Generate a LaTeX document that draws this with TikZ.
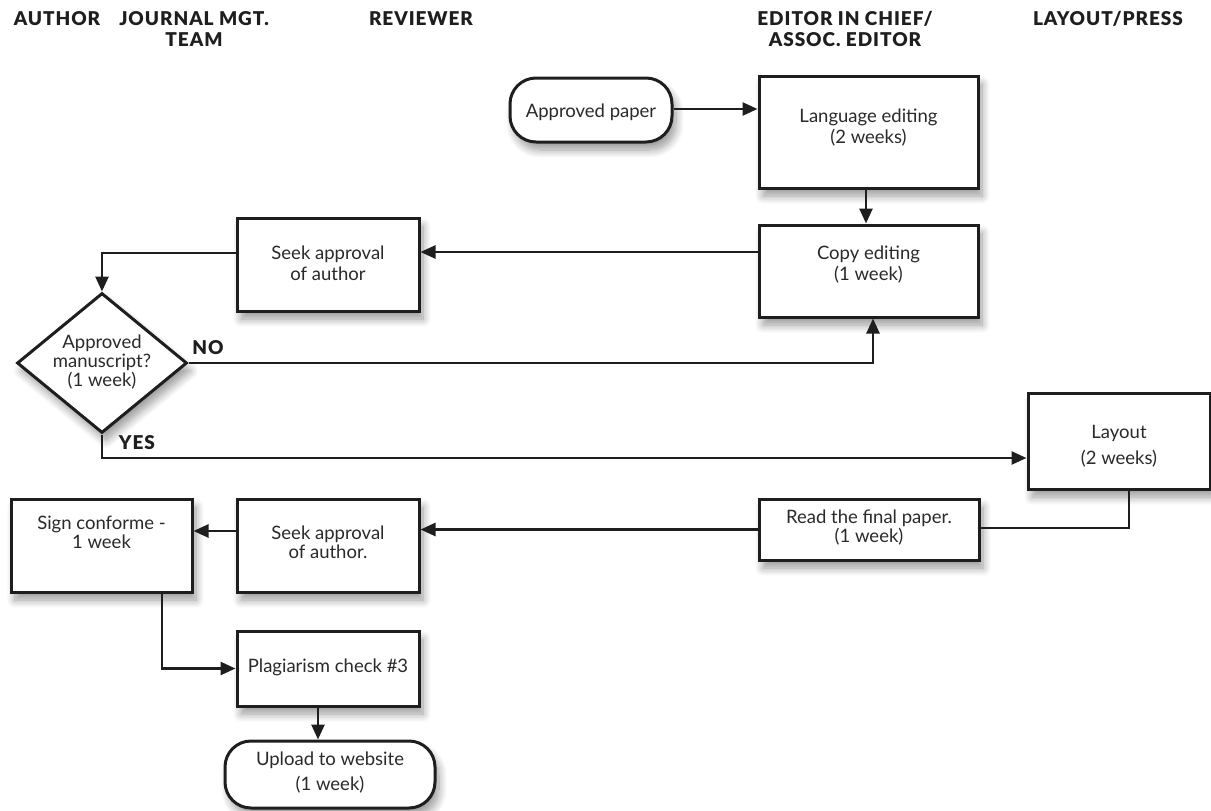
\documentclass[tikz,border=0pt]{standalone}
\usepackage{fontspec}
\setmainfont{Lato}
\newfontfamily\hdrfont{Lato Black}[LetterSpace=5]
\usetikzlibrary{arrows.meta,shapes.geometric,shadows.blur}
\definecolor{ink}{HTML}{1E1E1E}
\definecolor{txtc}{HTML}{2A2A2A}
\begin{document}
\begin{tikzpicture}[x=1pt,y=-1pt,
  shade/.style={blur shadow={shadow xshift=4pt, shadow yshift=-8pt, shadow blur radius=8pt, shadow blur steps=10, shadow opacity=40}},
  box/.style={draw=ink, line width=3pt, fill=white, rectangle, inner sep=0pt, shade},
  pill/.style={box, rounded corners=26pt},
  dia/.style={draw=ink, line width=3pt, fill=white, diamond, inner sep=0pt, shade},
  txt/.style={align=center, text=txtc, inner sep=0pt, font=\fontsize{18.5}{21}\selectfont},
  hdr/.style={align=center, text=ink, inner sep=0pt, font=\hdrfont\fontsize{19}{21}\selectfont},
  lbl/.style={text=ink, inner sep=0pt, font=\hdrfont\fontsize{19}{21}\selectfont},
  conn/.style={draw=ink, line width=2.6pt},
  arr/.style={conn, -{Triangle[length=15pt,width=13pt]}}
]
\useasboundingbox (0,0) rectangle (1211,811);
% headers
\node[hdr] (hA) at (57,19) {AUTHOR};
\node[hdr] (hJ) at (194,29) {JOURNAL MGT.\\TEAM};
\node[hdr] (hR) at (421,19) {REVIEWER};
\node[hdr] (hE) at (845,29) {EDITOR IN CHIEF/\\ASSOC. EDITOR};
\node[hdr] (hL) at (1108,19) {LAYOUT/PRESS};
% boxes
\node[pill, minimum width=162pt, minimum height=64pt] (appr) at (591,110) {};
\node[txt] (apprT) at (591,112) {Approved paper};
\node[box, minimum width=219pt, minimum height=112pt] (lang) at (868.5,132) {};
\node[txt] (langT) at (868.5,127.5) {Language editing\\(2 weeks)};
\node[box, minimum width=219pt, minimum height=92pt] (copy) at (868.5,271) {};
\node[txt] (copyT) at (868.5,264.5) {Copy editing\\(1 week)};
\node[box, minimum width=182pt, minimum height=93pt] (seekA) at (328,264.5) {};
\node[txt] (seekAT) at (328,263.5) {Seek approval\\of author};
\node[dia, minimum width=170pt, minimum height=140pt] (dec) at (102,363) {};
\node[txt, font=\fontsize{18.5}{19}\selectfont] (decT) at (102,362) {Approved\\manuscript?\\(1 week)};
\node[box, minimum width=182pt, minimum height=96pt] (lay) at (1119,441) {};
\node[txt, font=\fontsize{18.5}{26}\selectfont] (layT) at (1119,446) {Layout\\(2 weeks)};
\node[box, minimum width=220pt, minimum height=61pt] (read) at (869,529.5) {};
\node[txt, font=\fontsize{18.5}{19}\selectfont] (readT) at (869,527.5) {Read the final paper.\\(1 week)};
\node[box, minimum width=181pt, minimum height=93pt] (sign) at (101.5,545.5) {};
\node[txt, font=\fontsize{18.5}{19}\selectfont] (signT) at (101.5,532.5) {Sign conforme -\\1 week};
\node[box, minimum width=182pt, minimum height=93pt] (seekB) at (328,545.5) {};
\node[txt, font=\fontsize{18.5}{19}\selectfont] (seekBT) at (328,542.5) {Seek approval\\of author.};
\node[box, minimum width=182pt, minimum height=75pt] (plag) at (328,668.5) {};
\node[txt] (plagT) at (328,667) {Plagiarism check \#3};
\node[pill, minimum width=210pt, minimum height=67pt] (upl) at (330,774.5) {};
\node[txt, font=\fontsize{18.5}{25}\selectfont] (uplT) at (330,772.5) {Upload to website\\(1 week)};
% connectors
\draw[arr] ([yshift=1pt]appr.east) -- ([yshift=1pt]appr.east -| lang.west);
\draw[arr] ([xshift=-2.5pt]lang.south) -- ([xshift=-2.5pt]copy.north);
\draw[arr] ([yshift=19pt]copy.west) -- ([yshift=12.5pt]seekA.east);
\draw[arr] ([yshift=11.5pt]seekA.west) -| (dec.north);
\draw[arr] (dec.east) -| ([xshift=4.5pt]copy.south);
\draw[arr] (dec.south) |- ([yshift=-17pt]lay.west);
\draw[conn] ([xshift=10pt]lay.south) |- ([yshift=1.5pt]read.east);
\draw[arr] (read.west) -- (read.west -| seekB.east);
\draw[arr] ([yshift=14.5pt]seekB.west) -- ([yshift=14.5pt]sign.east);
\draw[arr] ([xshift=60.5pt]sign.south) |- (plag.west);
\draw[arr] ([xshift=-10pt]plag.south) -- ([xshift=-10pt]plag.south |- upl.north);
% branch labels
\node[lbl] (no) at (208,348) {NO};
\node[lbl] (yes) at (137,443) {YES};
\end{tikzpicture}
\end{document}
